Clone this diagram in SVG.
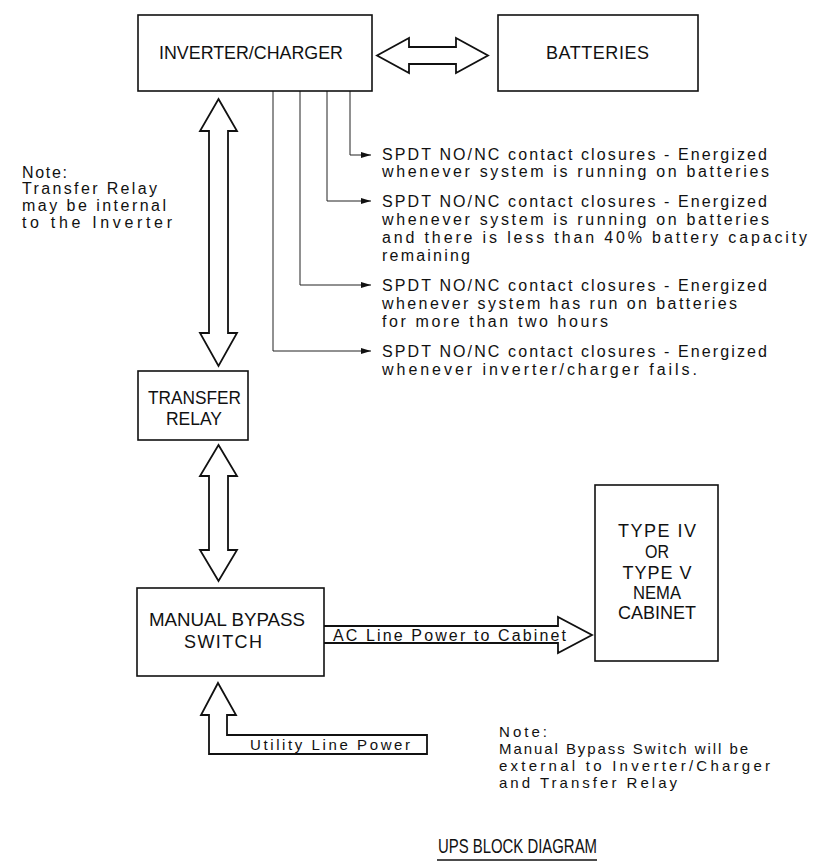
<svg xmlns="http://www.w3.org/2000/svg" width="817" height="866" viewBox="0 0 817 866">
<defs>
<style>
.box{fill:#fff;stroke:#111;stroke-width:1.6}
.blk{fill:#fff;stroke:#111;stroke-width:1.8;stroke-linejoin:miter}
.lead{fill:none;stroke:#222;stroke-width:1}
text{font-family:"Liberation Sans",Arial,sans-serif;fill:#111}
.lbl{font-size:18px}
.note{font-size:16px}
.sm{font-size:15px}
.ttl{font-size:21px}
</style>
<marker id="ah" markerWidth="10" markerHeight="6" refX="10" refY="3" orient="auto" markerUnits="userSpaceOnUse">
<path d="M0,0 L10,3 L0,6 Z" fill="#111"/>
</marker>
</defs>
<rect width="817" height="866" fill="#fff"/>

<g id="connectors">
<path class="blk" d="M377,55.5 L409,38 L409,47 L456,47 L456,38 L488,55.5 L456,73 L456,64 L409,64 L409,73 Z"/>
<path class="blk" d="M218.5,99 L237,131 L228,131 L228,333 L237,333 L218.5,366 L200,333 L209,333 L209,131 L200,131 Z"/>
<path class="blk" d="M218.5,445 L237,476 L228,476 L228,550 L237,550 L218.5,581 L200,550 L209,550 L209,476 L200,476 Z"/>
<path class="blk" d="M324,626 L558,626 L558,617 L592,635 L558,653 L558,643 L324,643"/>
<path class="blk" d="M218,683 L236,715 L227,715 L227,735 L427,735 L427,754 L209,754 L209,715 L201,715 Z"/>
<polyline class="lead" points="350,91 350,155 371,155" marker-end="url(#ah)"/>
<polyline class="lead" points="327,91 327,201 371,201" marker-end="url(#ah)"/>
<polyline class="lead" points="300,91 300,285 371,285" marker-end="url(#ah)"/>
<polyline class="lead" points="273,91 273,351 371,351" marker-end="url(#ah)"/>
<text class="note" x="333" y="641" textLength="233" lengthAdjust="spacing">AC Line Power to Cabinet</text>
<text class="sm" x="250" y="750" textLength="160" lengthAdjust="spacing">Utility Line Power</text>
</g>

<g id="inverter">
<rect class="box" x="138" y="15" width="234" height="76"/>
<text class="lbl" x="159" y="59" textLength="184" lengthAdjust="spacingAndGlyphs">INVERTER/CHARGER</text>
</g>

<g id="batteries">
<rect class="box" x="498" y="15" width="200" height="76"/>
<text class="lbl" x="546" y="59" textLength="103" lengthAdjust="spacing">BATTERIES</text>
</g>

<g id="transfer-relay">
<rect class="box" x="138" y="371" width="110" height="69"/>
<text class="lbl" x="148" y="404" textLength="93" lengthAdjust="spacingAndGlyphs">TRANSFER</text>
<text class="lbl" x="166" y="425" textLength="56" lengthAdjust="spacingAndGlyphs">RELAY</text>
</g>

<g id="manual-bypass">
<rect class="box" x="137" y="588" width="187" height="88"/>
<text class="lbl" x="149" y="626" textLength="156" lengthAdjust="spacingAndGlyphs">MANUAL BYPASS</text>
<text class="lbl" x="184" y="648" textLength="78" lengthAdjust="spacing">SWITCH</text>
</g>

<g id="cabinet">
<rect class="box" x="595" y="485" width="123" height="176"/>
<text class="lbl" x="657" y="537" text-anchor="middle" textLength="78" lengthAdjust="spacing">TYPE IV</text>
<text class="lbl" x="657" y="558" text-anchor="middle" textLength="24" lengthAdjust="spacingAndGlyphs">OR</text>
<text class="lbl" x="657" y="579" text-anchor="middle" textLength="69" lengthAdjust="spacing">TYPE V</text>
<text class="lbl" x="657" y="599" text-anchor="middle" textLength="48" lengthAdjust="spacingAndGlyphs">NEMA</text>
<text class="lbl" x="657" y="619" text-anchor="middle" textLength="78" lengthAdjust="spacing">CABINET</text>
</g>

<g id="spdt-notes">
<text class="note" x="382" y="160" textLength="385" lengthAdjust="spacing">SPDT NO/NC contact closures - Energized</text>
<text class="note" x="382" y="177" textLength="387" lengthAdjust="spacing">whenever system is running on batteries</text>
<text class="note" x="382" y="207" textLength="385" lengthAdjust="spacing">SPDT NO/NC contact closures - Energized</text>
<text class="note" x="382" y="225" textLength="387" lengthAdjust="spacing">whenever system is running on batteries</text>
<text class="note" x="382" y="243" textLength="425" lengthAdjust="spacing">and there is less than 40% battery capacity</text>
<text class="note" x="382" y="261" textLength="88" lengthAdjust="spacing">remaining</text>
<text class="note" x="382" y="291" textLength="385" lengthAdjust="spacing">SPDT NO/NC contact closures - Energized</text>
<text class="note" x="382" y="309" textLength="355" lengthAdjust="spacing">whenever system has run on batteries</text>
<text class="note" x="382" y="327" textLength="226" lengthAdjust="spacing">for more than two hours</text>
<text class="note" x="382" y="357" textLength="385" lengthAdjust="spacing">SPDT NO/NC contact closures - Energized</text>
<text class="note" x="382" y="375" textLength="315" lengthAdjust="spacing">whenever inverter/charger fails.</text>
</g>

<g id="note-relay">
<text class="note" x="22" y="178" textLength="45" lengthAdjust="spacing">Note:</text>
<text class="note" x="22" y="194" textLength="135" lengthAdjust="spacing">Transfer Relay</text>
<text class="note" x="22" y="211" textLength="144" lengthAdjust="spacing">may be internal</text>
<text class="note" x="22" y="228" textLength="150" lengthAdjust="spacing">to the Inverter</text>
</g>

<g id="note-bypass">
<text class="sm" x="499" y="737" textLength="48" lengthAdjust="spacing">Note:</text>
<text class="sm" x="499" y="754" textLength="249" lengthAdjust="spacing">Manual Bypass Switch will be</text>
<text class="sm" x="499" y="771" textLength="271" lengthAdjust="spacing">external to Inverter/Charger</text>
<text class="sm" x="499" y="788" textLength="178" lengthAdjust="spacing">and Transfer Relay</text>
</g>

<g id="title">
<text class="ttl" x="438" y="853" textLength="159" lengthAdjust="spacingAndGlyphs">UPS BLOCK DIAGRAM</text>
<line x1="437" y1="860" x2="597" y2="860" stroke="#111" stroke-width="1.6"/>
</g>
</svg>
